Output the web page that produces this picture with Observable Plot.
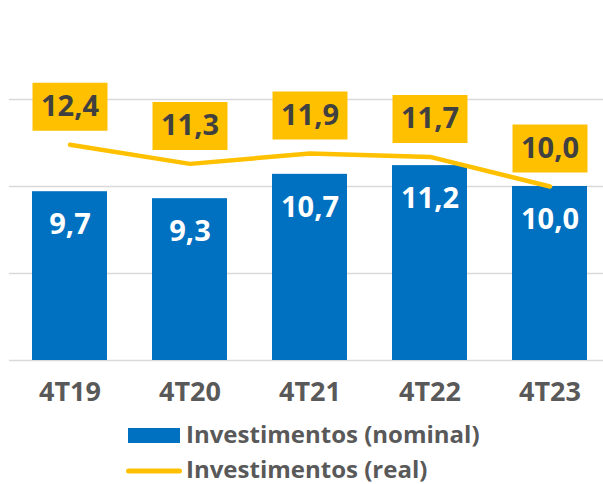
<!DOCTYPE html>
<html>
<head>
<meta charset="utf-8">
<script src="https://cdn.jsdelivr.net/npm/d3@7"></script>
<script src="https://cdn.jsdelivr.net/npm/@observablehq/plot@0.6"></script>
<style>
  html, body { margin: 0; padding: 0; background: #fff; overflow: hidden; }
  body { width: 603px; height: 484px; font-family: "Open Sans", sans-serif; }
  svg { display: block; }
</style>
</head>
<body>
<div id="chart"></div>
<div id="legend"></div>
<script>
const categories = ["4T19", "4T20", "4T21", "4T22", "4T23"];
const nominal = [9.7, 9.3, 10.7, 11.2, 10.0];
const real = [12.4, 11.3, 11.9, 11.7, 10.0];
const gridTicks = [0, 5, 10, 15];
const seriesNames = ["Investimentos (nominal)", "Investimentos (real)"];
const colors = ["#0070C0", "#FFC000"];

const fmt = v => v.toFixed(1).replace(".", ",");
const data = categories.map((c, i) => ({cat: c, nominal: nominal[i], real: real[i]}));

const boxSymbol = { draw(ctx) { ctx.rect(-37.5, -24, 75, 48); } };

const chart = Plot.plot({
  width: 603,
  height: 412,
  marginLeft: 9,
  marginRight: 0,
  marginTop: 12,
  marginBottom: 52,
  x: { domain: categories, range: [-13, 632], padding: 0.375, axis: null },
  y: { domain: [0, 20], axis: null },
  style: { fontFamily: "Open Sans, sans-serif", overflow: "visible" },
  marks: [
    Plot.ruleY(gridTicks, { stroke: "#d9d9d9", strokeWidth: 1.5 }),
    Plot.barY(data, { x: "cat", y: "nominal", fill: colors[0] }),
    Plot.text(data, { x: "cat", y: "nominal", text: d => fmt(d.nominal), dy: 33, fill: "white", fontSize: 29, fontWeight: 700 }),
    Plot.line(data, { x: "cat", y: "real", stroke: colors[1], strokeWidth: 4.5, strokeLinecap: "round", strokeLinejoin: "round" }),
    Plot.dot(data, { x: "cat", y: "real", symbol: boxSymbol, fill: colors[1], stroke: null, dy: -38 }),
    Plot.text(data, { x: "cat", y: "real", text: d => fmt(d.real), dy: -38, fill: "#404040", fontSize: 29, fontWeight: 700 }),
    Plot.text(categories, { x: d => d, y: () => 0, text: d => d, dy: 32, fill: "#595959", fontSize: 27, fontWeight: 700 })
  ]
});
document.getElementById("chart").appendChild(chart);

const leg = d3.select("#legend").append("svg")
  .attr("width", 603).attr("height", 72)
  .style("font-family", "Open Sans, sans-serif");
leg.append("rect").attr("x", 128).attr("y", 16).attr("width", 52).attr("height", 15).attr("fill", colors[0]);
leg.append("text").attr("x", 186).attr("y", 31).attr("font-size", 24).attr("font-weight", 700)
  .attr("fill", "#595959").text(seriesNames[0]);
leg.append("line").attr("x1", 128.5).attr("x2", 179.5).attr("y1", 59).attr("y2", 59)
  .attr("stroke", colors[1]).attr("stroke-width", 5).attr("stroke-linecap", "round");
leg.append("text").attr("x", 186).attr("y", 66).attr("font-size", 24).attr("font-weight", 700)
  .attr("fill", "#595959").text(seriesNames[1]);
</script>
</body>
</html>
